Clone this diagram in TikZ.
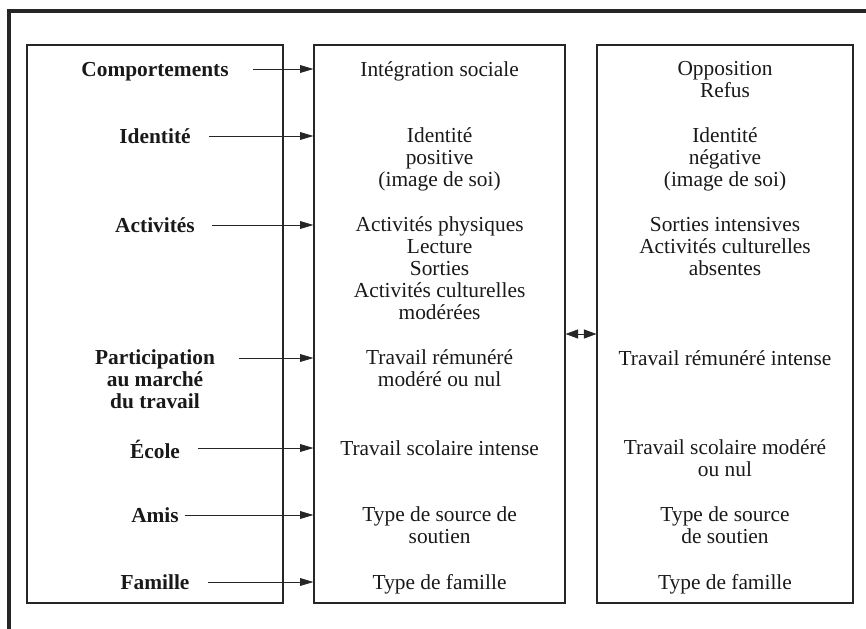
\documentclass[tikz,border=0pt]{standalone}
\usepackage{fontspec}
\setmainfont{Liberation Serif}
\usetikzlibrary{arrows.meta}

\begin{document}
\begin{tikzpicture}[
	boite/.style={draw,line width=0.8pt,black!85,minimum height=13.95cm,inner sep=0pt},
	fleche/.style={line width=0.6pt,black!85,-{Triangle[length=9.5pt,width=5.5pt]}},
	txt/.style={font=\fontsize{15.2}{15.6}\selectfont,align=center,inner sep=0pt,
		anchor=north,yshift=5.8pt,execute at begin node=\strut,text=black!90},
	lab/.style={txt,font=\fontsize{15.2}{15.6}\selectfont\bfseries},
	]
	\useasboundingbox (0,0) rectangle (21.65,-15.7);
	%
	\draw[line width=2.2pt,black!85] (0.225,-15.8) -- (0.225,-0.275) -- (21.8,-0.275);
	%
	\node[boite,minimum width=6.4cm]   (gauche) at (3.875,-8.1) {};
	\node[boite,minimum width=6.275cm] (mid)    at (10.9875,-8.1) {};
	\node[boite,minimum width=6.4cm]   (droite) at (18.125,-8.1) {};
	%
	\node[lab] (lcomp)  at (3.875,-1.725) {Comportements};
	\node[lab] (lid)    at (3.875,-3.4)   {Identité};
	\node[lab] (lact)   at (3.875,-5.625) {Activités};
	\node[lab] (lpart)  at (3.875,-8.95)  {Participation\\au marché\\du travail};
	\node[lab] (lecole) at (3.875,-11.2)  {École};
	\node[lab] (lamis)  at (3.875,-12.875) {Amis};
	\node[lab] (lfam)   at (3.875,-14.55) {Famille};
	%
	\node[txt] (mcomp)  at (10.99,-1.725) {Intégration sociale};
	\node[txt] (mid2)   at (10.99,-3.4)   {Identité\\positive\\(image de soi)};
	\node[txt] (mact)   at (10.99,-5.625) {Activités physiques\\Lecture\\Sorties\\Activités culturelles\\modérées};
	\node[txt] (mpart)  at (10.99,-8.95)  {Travail rémunéré\\modéré ou nul};
	\node[txt] (mecole) at (10.99,-11.2)  {Travail scolaire intense};
	\node[txt] (mamis)  at (10.99,-12.875) {Type de source de\\soutien};
	\node[txt] (mfam)   at (10.99,-14.55) {Type de famille};
	%
	\node[txt] (rcomp)  at (18.125,-1.725) {Opposition\\Refus};
	\node[txt] (rid)    at (18.125,-3.4)   {Identité\\négative\\(image de soi)};
	\node[txt] (ract)   at (18.125,-5.625) {Sorties intensives\\Activités culturelles\\absentes};
	\node[txt] (rpart)  at (18.125,-8.95)  {Travail rémunéré intense};
	\node[txt] (recole) at (18.125,-11.2)  {Travail scolaire modéré\\ou nul};
	\node[txt] (ramis)  at (18.125,-12.875) {Type de source\\de soutien};
	\node[txt] (rfam)   at (18.125,-14.55) {Type de famille};
	%
	\draw[fleche] ([xshift=17pt,yshift=-5.8pt]lcomp.north east) -- ([yshift=-5.8pt]lcomp.north -| mid.west);
	\draw[fleche] ([xshift=13pt,yshift=-5.8pt]lid.north east) -- ([yshift=-5.8pt]lid.north -| mid.west);
	\draw[fleche] ([xshift=12pt,yshift=-5.8pt]lact.north east) -- ([yshift=-5.8pt]lact.north -| mid.west);
	\draw[fleche] ([xshift=17pt,yshift=-5.8pt]lpart.north east) -- ([yshift=-5.8pt]lpart.north -| mid.west);
	\draw[fleche] ([xshift=13pt,yshift=-5.8pt]lecole.north east) -- ([yshift=-5.8pt]lecole.north -| mid.west);
	\draw[fleche] ([xshift=4pt,yshift=-5.8pt]lamis.north east) -- ([yshift=-5.8pt]lamis.north -| mid.west);
	\draw[fleche] ([xshift=13pt,yshift=-5.8pt]lfam.north east) -- ([yshift=-5.8pt]lfam.north -| mid.west);
	%
	\draw[fleche,{Triangle[length=9pt,width=6.5pt]}-{Triangle[length=9pt,width=6.5pt]}]
		([yshift=-0.25cm]mid.east) -- ([yshift=-0.25cm]droite.west);
	%
\end{tikzpicture}
\end{document}
